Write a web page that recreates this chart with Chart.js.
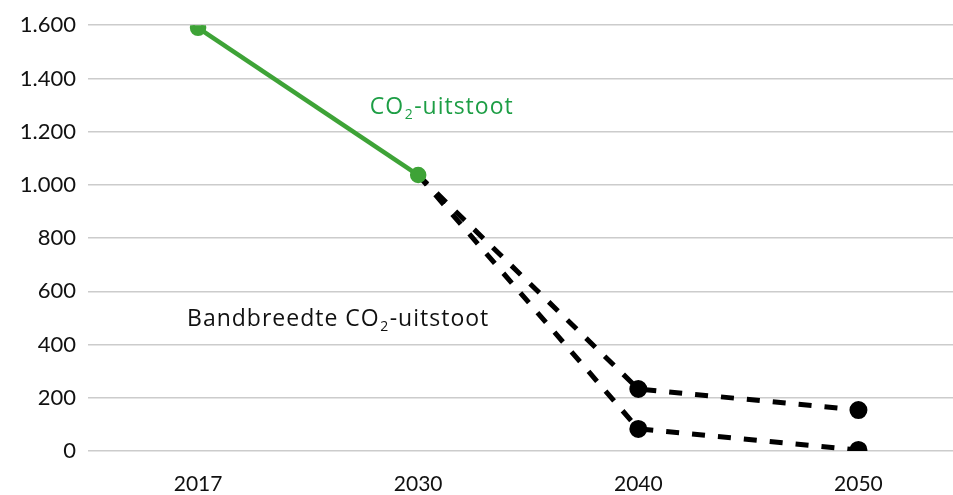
<!DOCTYPE html>
<html lang="nl">
<head>
<meta charset="utf-8">
<title>CO2-uitstoot</title>
<script src="https://cdn.jsdelivr.net/npm/chart.js@4/dist/chart.umd.min.js"></script>
<style>
  html, body { margin: 0; padding: 0; background: #fff; overflow: hidden; }
  #wrap { width: 953px; height: 495px; overflow: hidden; }
  canvas { display: block; }
</style>
</head>
<body>
<div id="wrap"><canvas id="chart" width="980" height="495"></canvas></div>
<script>
(() => {
  'use strict';

  // ── Data ────────────────────────────────────────────────────────────────────

  const YEARS = ['2017', '2030', '2040', '2050'];

  const CO2_ACTUAL = [1590, 1037, null, null];
  const BAND_HIGH  = [null, 1037, 233, 154];
  const BAND_LOW   = [null, 1037, 83, 4];

  const Y_TICK_LABELS = ['0', '200', '400', '600', '800', '1.000', '1.200', '1.400', '1.600'];

  const FONT = 'Lato, "Noto Sans", sans-serif';
  const LABEL_FONT = '"Open Sans", "Noto Sans", sans-serif';
  const GREEN_LINE = '#3ea337';
  const GREEN_TEXT = '#1d9e45';

  // ── Text labels with CO₂ subscript ─────────────────────────────────────────

  function drawCo2Label(ctx, x, y, prefix, color, size) {
    ctx.save();
    ctx.fillStyle = color;
    ctx.textBaseline = 'alphabetic';
    ctx.textAlign = 'left';
    ctx.letterSpacing = '1px';
    ctx.font = `${size}px ${LABEL_FONT}`;
    let cx = x;
    const head = prefix + 'CO';
    ctx.fillText(head, cx, y);
    cx += ctx.measureText(head).width;
    ctx.font = `${Math.round(size * 0.62)}px ${LABEL_FONT}`;
    ctx.fillText('2', cx + 0.5, y + 5);
    cx += ctx.measureText('2').width + 1;
    ctx.font = `${size}px ${LABEL_FONT}`;
    ctx.fillText('-uitstoot', cx, y);
    ctx.restore();
  }

  const labelsPlugin = {
    id: 'seriesLabels',
    afterDatasetsDraw(chart) {
      const { ctx, scales: { x, y } } = chart;
      drawCo2Label(ctx, x.getPixelForValue(0.78), y.getPixelForValue(1268), '', GREEN_TEXT, 23);
      drawCo2Label(ctx, x.getPixelForValue(-0.05), y.getPixelForValue(470), 'Bandbreedte ', '#111', 23);
    },
  };

  // ── Chart ───────────────────────────────────────────────────────────────────

  const bandStyle = {
    borderColor: '#000',
    backgroundColor: '#000',
    borderWidth: 5,
    borderDash: [13, 13],
    borderCapStyle: 'butt',
    pointRadius: [0, 0, 6.5, 6.5],
    pointHoverRadius: 0,
    tension: 0,
    spanGaps: false,
  };

  new Chart(document.getElementById('chart'), {
    type: 'line',
    data: {
      labels: YEARS,
      datasets: [
        {
          label: 'CO2-uitstoot',
          data: CO2_ACTUAL,
          borderColor: GREEN_LINE,
          backgroundColor: GREEN_LINE,
          borderWidth: 4.5,
          pointRadius: 6,
          tension: 0,
        },
        { label: 'Bandbreedte hoog', data: BAND_HIGH, ...bandStyle },
        { label: 'Bandbreedte laag', data: BAND_LOW, ...bandStyle },
      ],
    },
    options: {
      responsive: false,
      animation: false,
      layout: { padding: { top: 25, right: 0, left: 0, bottom: 0 } },
      plugins: {
        legend: { display: false },
        tooltip: { enabled: false },
      },
      scales: {
        x: {
          offset: true,
          grid: { display: false, drawTicks: false },
          border: { display: false },
          ticks: { color: '#111', font: { family: FONT, size: 21 }, padding: 21, maxRotation: 0 },
          afterFit: s => { s.height = 44; },
        },
        y: {
          min: 0,
          max: 1600,
          grid: { color: '#cccccc', lineWidth: 1.5, drawTicks: false },
          border: { display: false },
          ticks: {
            stepSize: 200,
            padding: 12,
            color: '#111',
            font: { family: FONT, size: 22 },
            callback: v => Y_TICK_LABELS[v / 200],
          },
          afterFit: s => { s.width = 88; },
        },
      },
    },
    plugins: [labelsPlugin],
  });
})();
</script>
</body>
</html>
